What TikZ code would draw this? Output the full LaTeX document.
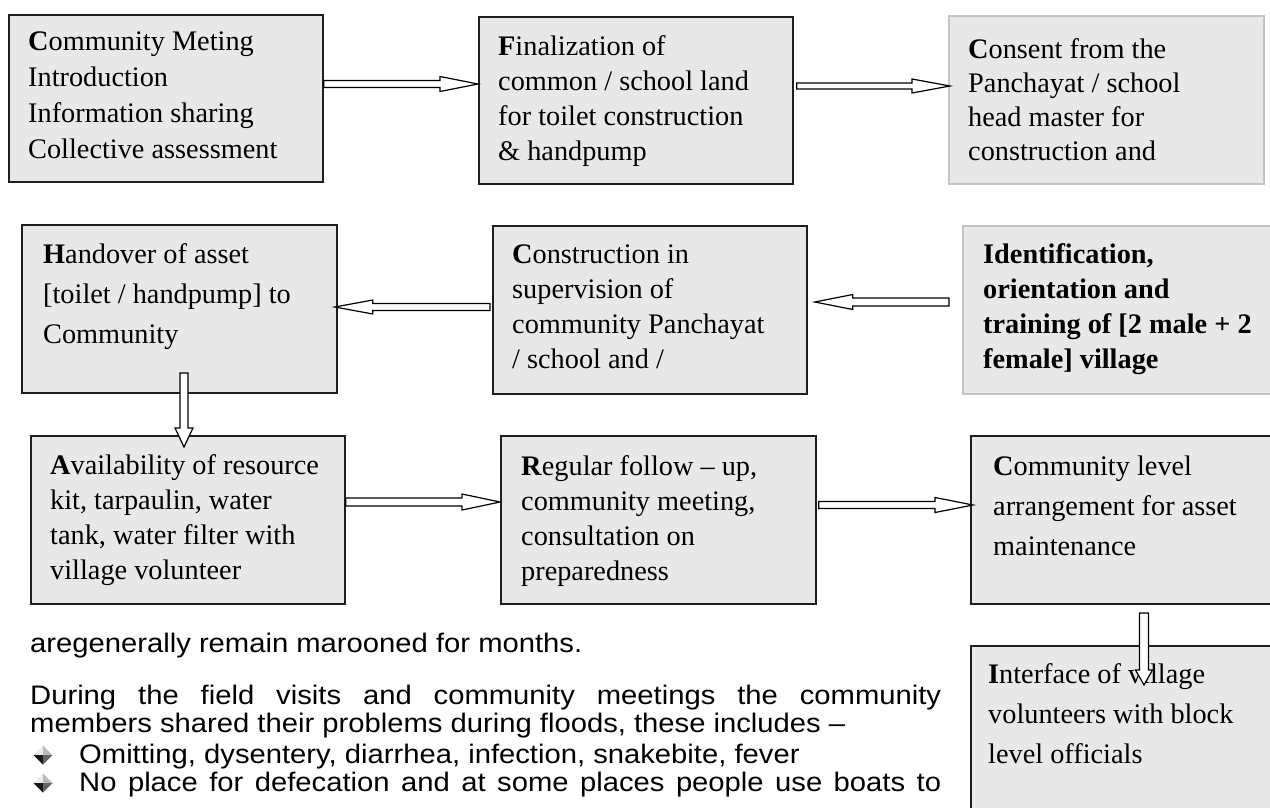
\documentclass[tikz,border=0pt]{standalone}
\usepackage{fontspec}
\setmainfont{Liberation Serif}
\newfontfamily\bodyfont[FakeStretch=1.09,Ligatures=TeX]{Liberation Sans}
\usetikzlibrary{calc}
\definecolor{boxfill}{RGB}{232,232,232}
\definecolor{boxline}{RGB}{30,30,30}
\definecolor{lightline}{RGB}{196,196,196}
\newcommand\ml[1]{\begin{tabular}[t]{@{}l@{}}#1\end{tabular}}
\tikzset{
  stepbox/.style={draw=boxline, line width=1.8pt, fill=boxfill, anchor=north west, inner sep=0pt, minimum width=314pt, minimum height=168pt},
  lightbox/.style={stepbox, draw=lightline, line width=1.6pt},
  boxtext/.style={anchor=base west, inner sep=0pt, font=\fontsize{28.3}{#1}\selectfont},
  boxtext/.default=35,
  bodytext/.style={anchor=base west, inner sep=0pt, font=\bodyfont\fontsize{26.8}{28}\selectfont},
  blk/.style={draw=black, fill=white, line width=1.2pt, line join=miter},
}
% horizontal block arrow: start, tip, shaft half, head half, head length (signed)
\newcommand\harrow[5]{%
  \draw[blk] let \p1=(#1), \p2=(#2), \n1={\x2-(#5pt)} in
    ({\x1},{\y1+#3pt}) -- ({\n1},{\y1+#3pt}) -- ({\n1},{\y1+#4pt}) -- ({\x2},{\y1})
    -- ({\n1},{\y1-#4pt}) -- ({\n1},{\y1-#3pt}) -- ({\x1},{\y1-#3pt}) -- cycle;}
% downward block arrow: start, tip, shaft half, head half, head length
\newcommand\varrow[5]{%
  \draw[blk] let \p1=(#1), \p2=(#2), \n1={\y2+#5pt} in
    ({\x1-#3pt},{\y1}) -- ({\x1-#3pt},{\n1}) -- ({\x1-#4pt},{\n1}) -- ({\x1},{\y2})
    -- ({\x1+#4pt},{\n1}) -- ({\x1+#3pt},{\n1}) -- ({\x1+#3pt},{\y1}) -- cycle;}
\begin{document}
\begin{tikzpicture}[x=1pt, y=-1pt]
\clip (0,0) rectangle (1270,807);
\fill[white] (0,0) rectangle (1270,807);

% boxes
\node[stepbox, minimum height=167pt] (b1) at (8,14) {};
\node[stepbox, minimum height=167pt] (b2) at (478,16) {};
\node[lightbox, minimum width=315pt] (b3) at (948,15) {};
\node[stepbox, minimum width=315pt] (b4) at (21,224) {};
\node[stepbox] (b5) at (492,225) {};
\node[lightbox, minimum width=340pt] (b6) at (962,225) {};
\node[stepbox] (b7) at (30,435) {};
\node[stepbox, minimum width=315pt] (b8) at (500,435) {};
\node[stepbox, minimum width=340pt] (b9) at (970,435) {};
\node[stepbox, minimum width=340pt, minimum height=220pt] (b10) at (970,645) {};

% box texts
\node[boxtext=36.3] (t1) at ($(b1.north west)+(20,36)$) {\ml{\textbf{C}ommunity Meting\\Introduction\\Information sharing\\Collective assessment}};
\node[boxtext=35] (t2) at ($(b2.north west)+(20,39)$) {\ml{\textbf{F}inalization of\\common / school land\\for toilet construction\\\& handpump}};
\node[boxtext=34] (t3) at ($(b3.north west)+(20,43)$) {\ml{\textbf{C}onsent from the\\Panchayat / school\\head master for\\construction and}};
\node[boxtext=40] (t4) at ($(b4.north west)+(22,39)$) {\ml{\textbf{H}andover of asset\\{[}toilet / handpump] to\\Community}};
\node[boxtext=35] (t5) at ($(b5.north west)+(20,38)$) {\ml{\textbf{C}onstruction in\\supervision of\\community Panchayat\\/ school and /}};
\node[boxtext=35] (t6) at ($(b6.north west)+(21,38)$) {\ml{\textbf{Identification,}\\\textbf{orientation and}\\\textbf{training of [2 male + 2}\\\textbf{female] village}}};
\node[boxtext=35] (t7) at ($(b7.north west)+(20,39)$) {\ml{\textbf{A}vailability of resource\\kit, tarpaulin, water\\tank, water filter with\\village volunteer}};
\node[boxtext=35] (t8) at ($(b8.north west)+(21,40)$) {\ml{\textbf{R}egular follow – up,\\community meeting,\\consultation on\\preparedness}};
\node[boxtext=40] (t9) at ($(b9.north west)+(23,40)$) {\ml{\textbf{C}ommunity level\\arrangement for asset\\maintenance}};
\node[boxtext=40] (t10) at ($(b10.north west)+(18,38)$) {\ml{\textbf{I}nterface of village\\volunteers with block\\level officials}};

% arrow end points
\coordinate (a1s) at ($(b1.north east)+(0,70)$);
\coordinate (a1t) at ($(b2.north west)+(0,68)$);
\coordinate (a2s) at ($(b2.north east)+(3,70)$);
\coordinate (a2t) at ($(b3.north west)+(2,71)$);
\coordinate (a3s) at ($(b6.north west)+(-13,77)$);
\coordinate (a3t) at ($(b5.north east)+(7,77)$);
\coordinate (a4s) at ($(b5.north west)+(-2,82)$);
\coordinate (a4t) at ($(b4.north east)+(-3,82)$);
\coordinate (a5s) at ($(b4.north west)+(163,149)$);
\coordinate (a5t) at ($(b7.north west)+(154,12)$);
\coordinate (a6s) at ($(b7.north east)+(0,67)$);
\coordinate (a6t) at ($(b8.north west)+(0,67)$);
\coordinate (a7s) at ($(b8.north east)+(2,70)$);
\coordinate (a7t) at ($(b9.north west)+(3,70)$);
\coordinate (a8s) at ($(b9.north west)+(174,178)$);
\coordinate (a8t) at ($(b10.north west)+(174,40)$);

\harrow{a1s}{a1t}{3.5}{7.5}{38}
\harrow{a2s}{a2t}{3}{7}{38}
\harrow{a3s}{a3t}{4}{7.5}{-38}
\harrow{a4s}{a4t}{3.5}{7}{-38}
\varrow{a5s}{a5t}{4}{9}{19}
\harrow{a6s}{a6t}{4}{8}{38}
\harrow{a7s}{a7t}{3.5}{7.5}{38}
\varrow{a8s}{a8t}{4.5}{8.5}{15}

% body text
\node[bodytext] (p1) at (30,652) {aregenerally remain marooned for months.};
\node[bodytext] (p2) at (30,704) {\makebox[911pt][s]{During the field visits and community meetings the community}};
\node[bodytext] (p3) at (30,732) {members shared their problems during floods, these includes –};
\node[bodytext] (p4) at (79,763) {Omitting, dysentery, diarrhea, infection, snakebite, fever};
\node[bodytext] (p5) at (79,791) {\makebox[862pt][s]{No place for defecation and at some places people use boats to}};

% bullets
\foreach \nm/\yy in {bu1/755, bu2/783} {
  \coordinate (\nm) at (43,\yy);
  \fill[gray!15] (\nm) ++(-9.5,0) -- ++(9.5,-9.5) -- ++(0,9.5) -- cycle;
  \fill[gray!55] (\nm) ++(9.5,0) -- ++(-9.5,-9.5) -- ++(0,9.5) -- cycle;
  \fill[black!90] (\nm) ++(-9.5,0) -- ++(9.5,9.5) -- ++(0,-9.5) -- cycle;
  \fill[black!60] (\nm) ++(9.5,0) -- ++(-9.5,9.5) -- ++(0,-9.5) -- cycle;
}
\end{tikzpicture}
\end{document}
